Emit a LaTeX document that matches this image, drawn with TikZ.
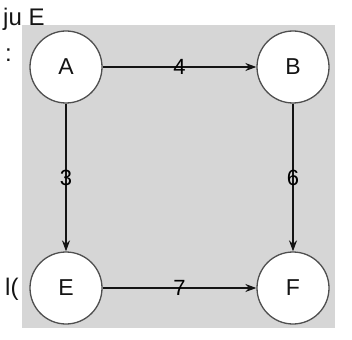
\documentclass[tikz,border=0pt]{standalone}
\usepackage{fontspec}
\setmainfont{Liberation Sans}
\usetikzlibrary{arrows.meta}
\definecolor{bggray}{RGB}{214,214,214}
\definecolor{ink}{RGB}{20,20,20}
\tikzset{
  vertex/.style={circle, draw=ink!75, line width=1.3pt, fill=white, minimum size=72pt, inner sep=0pt, font=\fontsize{23}{25}\selectfont, text=ink},
  edge/.style={draw=ink, line width=1.4pt, -{Stealth[length=11pt,width=8pt]}},
  weight/.style={font=\fontsize{22}{24}\selectfont, text=black, inner sep=0pt},
  scrap/.style={font=\fontsize{24}{26}\selectfont, text=ink, inner sep=0pt, anchor=west}
}
\begin{document}
\begin{tikzpicture}[x=1pt,y=-1pt]
\useasboundingbox (0,0) rectangle (352,339);
\fill[bggray] (22,25) rectangle (335,328);
\node[vertex] (A) at (66,67) {A};
\node[vertex] (B) at (293,67) {B};
\node[vertex] (E) at (66,288) {E};
\node[vertex] (F) at (293,288) {F};
\draw[edge] (A) -- (B) node[weight, pos=0.5] (w4) {4};
\draw[edge] (A) -- (E) node[weight, pos=0.5] (w3) {3};
\draw[edge] (B) -- (F) node[weight, pos=0.5] (w6) {6};
\draw[edge] (E) -- (F) node[weight, pos=0.5] (w7) {7};
\node[scrap] (s1) at (3,19) {ju E};
\node[scrap] (s2) at (5,55) {:};
\node[scrap] (s3) at (5,289) {l(};
\end{tikzpicture}
\end{document}
